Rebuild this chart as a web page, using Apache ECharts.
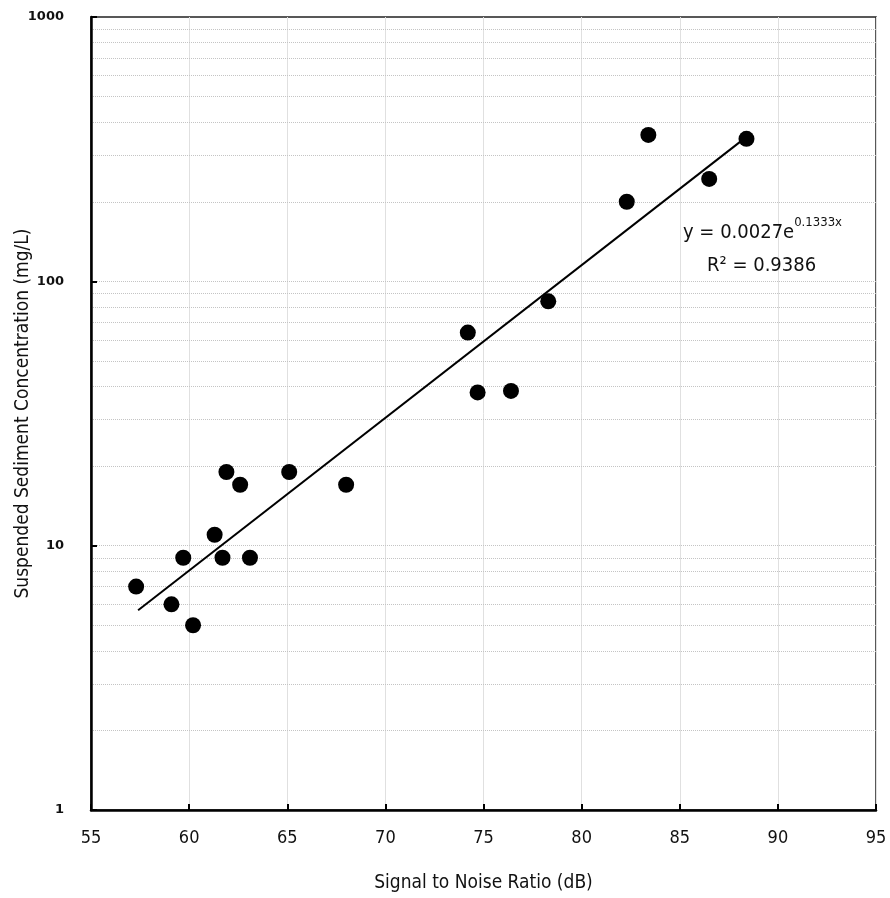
<!DOCTYPE html>
<html>
<head>
<meta charset="utf-8">
<script src="https://cdn.jsdelivr.net/npm/echarts@6/dist/echarts.min.js"></script>
<style>html,body{margin:0;padding:0;background:#fff}#c{width:890px;height:898px}</style>
</head>
<body>
<div id="c"></div>
<script>
// Data
const snr = [57.3, 59.1, 59.7, 60.2, 61.3, 61.7, 61.9, 62.6, 63.1, 65.1, 68.0, 74.2, 74.7, 76.4, 78.3, 82.3, 83.4, 86.5, 88.4];
const ssc = [7, 6, 9, 5, 11, 9, 19, 17, 9, 19, 17, 64, 38, 38.5, 84, 200, 358, 244, 346];
const trendX = [57.4, 88.4];
const trendY = [5.7, 352];
const gridValues = [2,3,4,5,6,7,8,9,10,20,30,40,50,60,70,80,90,100,200,300,400,500,600,700,800,900];
const xTicks = [55, 60, 65, 70, 75, 80, 85, 90, 95];
const yTicks = [1, 10, 100, 1000];
const eqText = ['y = 0.0027e', '0.1333x', 'R² = 0.9386'];

const narrow = '"Liberation Sans Narrow", "DejaVu Sans Condensed", "Arial Narrow", sans-serif';
const chart = echarts.init(document.getElementById('c'));
chart.setOption({
  animation: false,
  backgroundColor: '#fff',
  grid: { left: 91, right: 14, top: 17, bottom: 88, outerBoundsMode: 'none', containLabel: false,
          show: true, borderColor: '#222', borderWidth: 1.5, backgroundColor: 'transparent' },
  xAxis: {
    type: 'value', min: xTicks[0], max: xTicks[xTicks.length - 1], interval: 5,
    name: 'Signal to Noise Ratio (dB)', nameLocation: 'middle', nameGap: 64, nameMoveOverlap: false,
    nameTextStyle: { fontFamily: narrow, fontSize: 19, color: '#111' },
    axisLine: { show: true, onZero: false, lineStyle: { color: '#000', width: 2.5 } },
    axisTick: { show: true, inside: true, length: 6, lineStyle: { color: '#000', width: 2 } },
    axisLabel: { fontFamily: narrow, fontSize: 18, color: '#111', margin: 19 },
    splitLine: { show: true, lineStyle: { color: '#e0e0e0', width: 1 } }
  },
  yAxis: {
    type: 'log', logBase: 10, min: yTicks[0], max: yTicks[yTicks.length - 1],
    name: 'Suspended Sediment Concentration (mg/L)', nameLocation: 'middle', nameGap: 58, nameMoveOverlap: false,
    nameTextStyle: { fontFamily: narrow, fontSize: 19, color: '#111' },
    axisLine: { show: true, lineStyle: { color: '#000', width: 2.5 } },
    axisTick: { show: true, inside: true, length: 6, lineStyle: { color: '#000', width: 2 } },
    axisLabel: { fontFamily: '"DejaVu Sans", sans-serif', fontWeight: 'bold', fontSize: 13, color: '#111', margin: 27,
                 formatter: v => String(v) },
    splitLine: { show: false }
  },
  graphic: [{
    type: 'text', left: 683, top: 216, z: 10,
    style: {
      text: '{a|' + eqText[0] + '}{s|' + eqText[1] + '}\n{b|' + eqText[2] + '}',
      rich: {
        a: { fontFamily: narrow, fontSize: 20, fill: '#111', lineHeight: 34 },
        s: { fontFamily: narrow, fontSize: 13, fill: '#111', verticalAlign: 'top', lineHeight: 34, padding: [0,0,14,0] },
        b: { fontFamily: narrow, fontSize: 20, fill: '#111', lineHeight: 32, padding: [0,0,0,24] }
      }
    }
  }],
  series: [
    {
      type: 'line', data: [], silent: true, z: 0,
      markLine: {
        silent: true, symbol: 'none', label: { show: false }, z: 0,
        lineStyle: { color: '#c4c4c4', type: 'dotted', width: 1 },
        data: gridValues.map(v => ({ yAxis: v }))
      }
    },
    {
      type: 'line', data: trendX.map((x, i) => [x, trendY[i]]), z: 3,
      symbol: 'none', lineStyle: { color: '#000', width: 2 }, silent: true
    },
    {
      type: 'scatter', data: snr.map((x, i) => [x, ssc[i]]), z: 5,
      symbolSize: 16, itemStyle: { color: '#000', opacity: 1 }
    }
  ]
});
</script>
</body>
</html>
